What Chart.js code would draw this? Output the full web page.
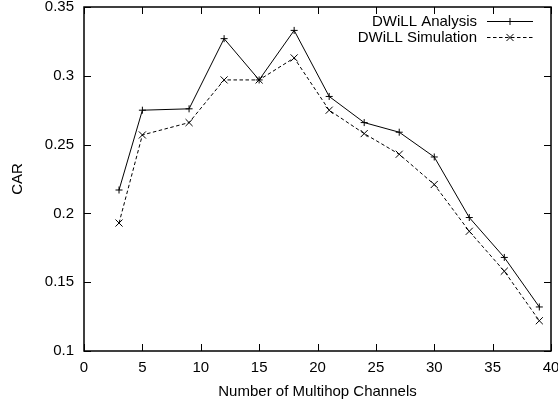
<!DOCTYPE html>
<html>
<head>
<meta charset="utf-8">
<script src="https://cdn.jsdelivr.net/npm/chart.js@4/dist/chart.umd.min.js"></script>
<style>
  html, body { margin: 0; padding: 0; background: #fff; }
  #wrap { width: 558px; height: 406px; }
</style>
</head>
<body>
<div id="wrap"><canvas id="carChart" width="558" height="406"></canvas></div>
<script>
// channel counts on the x axis
const channels = [3, 5, 9, 12, 15, 18, 21, 24, 27, 30, 33, 36, 39];
const analysisCAR = [0.217, 0.275, 0.276, 0.327, 0.297, 0.333, 0.285, 0.266, 0.259, 0.241, 0.197, 0.168, 0.132];
const simulationCAR = [0.193, 0.257, 0.266, 0.297, 0.297, 0.313, 0.275, 0.258, 0.243, 0.221, 0.187, 0.158, 0.122];
const xTickLabels = ['0', '5', '10', '15', '20', '25', '30', '35', '40'];
const yTickLabels = ['0.1', '0.15', '0.2', '0.25', '0.3', '0.35'];

const FONT = "'Liberation Sans', Arial, sans-serif";
const FSIZE = 15;

function toPoints(ys) {
  return channels.map((c, i) => ({ x: c, y: ys[i] }));
}

// gnuplot style frame: border plus inward ticks on all four sides
const framePlugin = {
  id: 'frame',
  afterDatasetsDraw(chart) {
    const { ctx, chartArea: a, scales } = chart;
    const len = 7;
    ctx.save();
    ctx.strokeStyle = '#000';
    ctx.lineWidth = 1;
    ctx.beginPath();
    scales.x.ticks.forEach(t => {
      const px = Math.round(scales.x.getPixelForValue(t.value)) + 0.5;
      ctx.moveTo(px, a.bottom); ctx.lineTo(px, a.bottom - len);
      ctx.moveTo(px, a.top); ctx.lineTo(px, a.top + len);
    });
    scales.y.ticks.forEach(t => {
      const py = Math.round(scales.y.getPixelForValue(t.value)) + 0.5;
      ctx.moveTo(a.left, py); ctx.lineTo(a.left + len, py);
      ctx.moveTo(a.right, py); ctx.lineTo(a.right - len, py);
    });
    ctx.stroke();
    ctx.lineWidth = 1.5;
    ctx.strokeRect(a.left, a.top, a.right - a.left, a.bottom - a.top);
    ctx.restore();
  }
};

// legend drawn like gnuplot: right aligned text, sample on the right
const keyPlugin = {
  id: 'key',
  afterDatasetsDraw(chart) {
    const { ctx, chartArea: a } = chart;
    const textRight = a.right - 74;
    const s0 = a.right - 64, s1 = a.right - 18;
    ctx.save();
    ctx.font = FSIZE + 'px ' + FONT;
    ctx.textAlign = 'right';
    ctx.textBaseline = 'middle';
    chart.data.datasets.forEach((ds, i) => {
      const y = a.top + 14 + i * 16;
      ctx.fillStyle = '#000';
      ctx.fillText(ds.label, textRight, y + 1);
      ctx.strokeStyle = ds.borderColor;
      ctx.lineWidth = ds.borderWidth;
      ctx.setLineDash(ds.borderDash || []);
      ctx.beginPath();
      ctx.moveTo(s0, y + 0.5); ctx.lineTo(s1, y + 0.5);
      ctx.stroke();
      ctx.setLineDash([]);
      Chart.helpers.drawPoint(ctx, {
        pointStyle: ds.pointStyle, radius: ds.pointRadius, borderWidth: 1
      }, (s0 + s1) / 2, y + 0.5);
    });
    ctx.restore();
  }
};

const carChart = new Chart(document.getElementById('carChart'), {
  type: 'scatter',
  data: {
    datasets: [{
      label: 'DWiLL Analysis',
      data: toPoints(analysisCAR),
      showLine: true,
      borderColor: '#000',
      backgroundColor: '#000',
      borderWidth: 1,
      pointStyle: 'cross',
      pointRadius: 3.5,
      pointBorderWidth: 1,
      pointBorderColor: '#000'
    }, {
      label: 'DWiLL Simulation',
      data: toPoints(simulationCAR),
      showLine: true,
      borderColor: '#000',
      backgroundColor: '#000',
      borderWidth: 1,
      borderDash: [3.5, 2.5],
      pointStyle: 'crossRot',
      pointRadius: 5,
      pointBorderWidth: 1,
      pointBorderColor: '#000'
    }]
  },
  options: {
    responsive: false,
    animation: false,
    layout: { padding: { top: 7, right: 7, left: 0, bottom: 0 } },
    plugins: { legend: { display: false }, tooltip: { enabled: false } },
    scales: {
      x: {
        type: 'linear',
        min: 0, max: 40,
        ticks: {
          stepSize: 5,
          color: '#000',
          padding: 8,
          maxRotation: 0,
          font: { family: FONT, size: FSIZE },
          callback: (v, i) => xTickLabels[i]
        },
        grid: { display: false, drawTicks: false },
        border: { display: false },
        title: {
          display: true, text: 'Number of Multihop Channels', color: '#000',
          font: { family: FONT, size: FSIZE }, padding: { top: 6, bottom: 5 }
        },
        afterFit(scale) {
          scale.height = 55;
          scale.paddingLeft = 0;
          scale.paddingRight = 0;
        }
      },
      y: {
        min: 0.1, max: 0.35,
        ticks: {
          stepSize: 0.05,
          color: '#000',
          padding: 10,
          font: { family: FONT, size: FSIZE },
          callback: (v, i) => yTickLabels[i]
        },
        grid: { display: false, drawTicks: false },
        border: { display: false },
        title: {
          display: true, text: 'CAR', color: '#000',
          font: { family: FONT, size: FSIZE }, padding: { top: 9, bottom: 0 }
        },
        afterFit(scale) {
          scale.width = 84;
          scale.paddingTop = 0;
          scale.paddingBottom = 0;
        }
      }
    }
  },
  plugins: [framePlugin, keyPlugin]
});
</script>
</body>
</html>
